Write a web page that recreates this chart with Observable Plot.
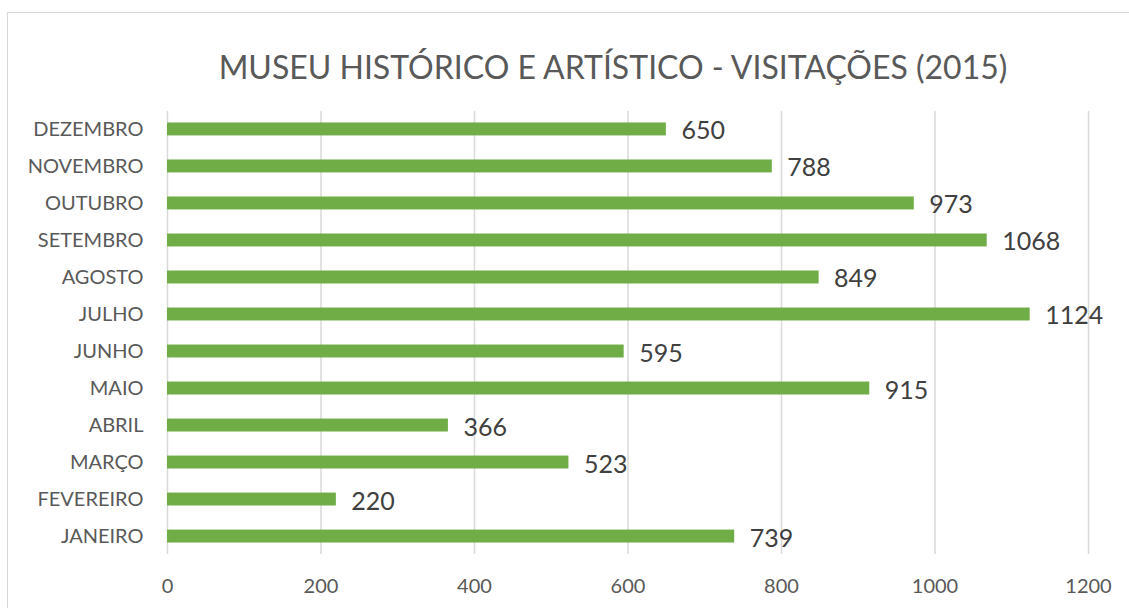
<!DOCTYPE html>
<html>
<head>
<meta charset="utf-8">
<script src="https://cdn.jsdelivr.net/npm/d3@7"></script>
<script src="https://cdn.jsdelivr.net/npm/@observablehq/plot@0.6"></script>
<style>
  html, body { margin: 0; padding: 0; background: #fff; }
  #wrap { position: relative; width: 1129px; height: 608px; overflow: hidden; font-family: Lato, "Open Sans", sans-serif; }
  #frame { position: absolute; left: 7px; top: 12px; width: 1210px; height: 620px; border: 1px solid #d9d9d9; box-sizing: border-box; }
  #title { position: absolute; left: 7px; width: 1212px; top: 43px; text-align: center; font-size: 32px; color: #595959; line-height: 48px; white-space: nowrap; }
  #chart { position: absolute; left: 0; top: 0; }
</style>
</head>
<body>
<div id="wrap">
  <div id="frame"></div>
  <div id="title">MUSEU HISTÓRICO E ARTÍSTICO - VISITAÇÕES (2015)</div>
  <div id="chart"></div>
</div>
<script>
const months = ["JANEIRO","FEVEREIRO","MARÇO","ABRIL","MAIO","JUNHO","JULHO","AGOSTO","SETEMBRO","OUTUBRO","NOVEMBRO","DEZEMBRO"];
const visits = [739, 220, 523, 366, 915, 595, 1124, 849, 1068, 973, 788, 650];
const xTicks = [0, 200, 400, 600, 800, 1000, 1200];

const data = months.map((m, i) => ({month: m, value: visits[i]}));
const order = months.slice().reverse();

const plot = Plot.plot({
  width: 1129,
  height: 608,
  marginLeft: 167,
  marginRight: 41,
  marginTop: 111,
  marginBottom: 54,
  style: {fontFamily: "Lato, 'Open Sans', sans-serif", background: "transparent", overflow: "visible"},
  x: {domain: [0, 1200], ticks: xTicks, label: null},
  y: {domain: order, paddingInner: 0.65, paddingOuter: 0.31, round: false, label: null},
  marks: [
    Plot.gridX(xTicks, {stroke: "#d9d9d9", strokeOpacity: 1, strokeWidth: 1.5}),
    Plot.barX(data, {x: "value", y: "month", fill: "#70ad47"}),
    Plot.text(data, {x: "value", y: "month", text: d => String(d.value), textAnchor: "start", dx: 15, dy: 2, fill: "#404040", fontSize: 25}),
    Plot.axisX(xTicks, {tickSize: 0, tickPadding: 24, fontSize: 20, color: "#595959", tickFormat: "d", label: null}),
    Plot.axisY({tickSize: 0, tickPadding: 24, fontSize: 20, color: "#595959", label: null})
  ]
});
document.getElementById("chart").appendChild(plot);
</script>
</body>
</html>
